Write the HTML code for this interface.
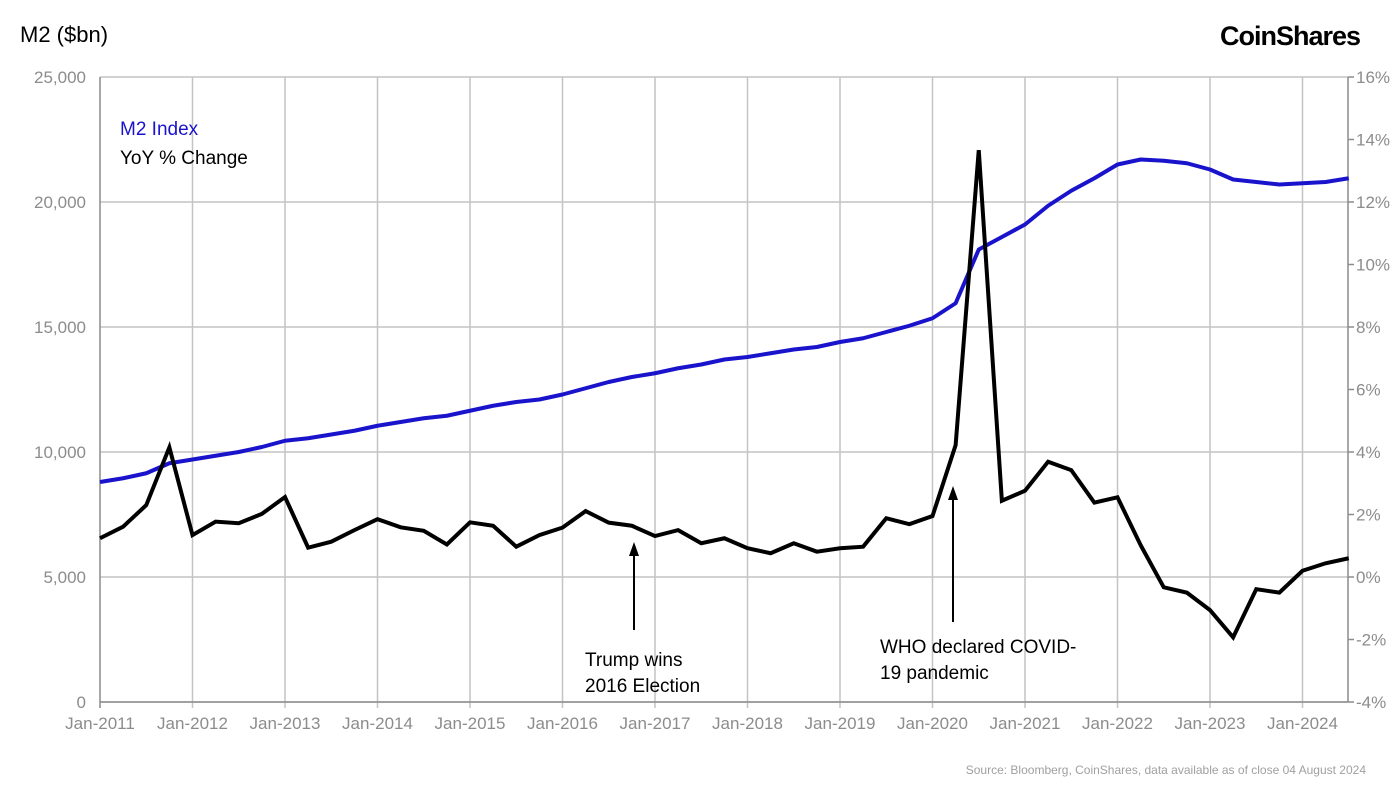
<!DOCTYPE html>
<html><head><meta charset="utf-8"><style>
body{margin:0;background:#fff;}
svg text{font-family:"Liberation Sans",Arial,sans-serif;}
</style></head><body>
<svg id="chart" width="1400" height="787">
<text x="20" y="42" font-size="22" fill="#000">M2 ($bn)</text>
<text x="1360" y="45" font-size="27" font-weight="bold" fill="#000" text-anchor="end" letter-spacing="-1">CoinShares</text>
<g id="grid"></g>
<g id="series"></g>
<text x="120" y="135" font-size="19" fill="#1a13cc">M2 Index</text>
<text x="120" y="164" font-size="19" fill="#000">YoY % Change</text>
<g>
<line x1="634" y1="630" x2="634" y2="555" stroke="#000" stroke-width="2"/>
<polygon points="629,556 639,556 634,542" fill="#000"/>
<text x="585" y="666" font-size="19">Trump wins</text>
<text x="585" y="692" font-size="19">2016 Election</text>
</g>
<g>
<line x1="953" y1="622" x2="953" y2="499" stroke="#000" stroke-width="2"/>
<polygon points="948,500 958,500 953,486" fill="#000"/>
<text x="880" y="653" font-size="19">WHO declared COVID-</text>
<text x="880" y="679" font-size="19">19 pandemic</text>
</g>
<text x="1366" y="774" font-size="12" fill="#a0a0a0" text-anchor="end">Source: Bloomberg, CoinShares, data available as of close 04 August 2024</text>
</svg>
<script>
const m2Values=[8800,8950,9150,9550,9700,9850,10000,10200,10450,10550,10700,10850,11050,11200,11350,11450,11650,11850,12000,12100,12300,12550,12800,13000,13150,13350,13500,13700,13800,13950,14100,14200,14400,14550,14800,15050,15350,15950,18100,18600,19100,19850,20450,20950,21500,21700,21650,21550,21300,20900,20800,20700,20750,20800,20950];
const yoyValues=[1.24,1.61,2.30,4.15,1.34,1.77,1.72,2.02,2.56,0.94,1.13,1.50,1.85,1.59,1.48,1.04,1.75,1.64,0.97,1.34,1.58,2.11,1.74,1.64,1.31,1.50,1.08,1.24,0.92,0.76,1.08,0.81,0.92,0.97,1.88,1.69,1.95,4.22,13.66,2.44,2.76,3.69,3.42,2.38,2.55,1.02,-0.33,-0.50,-1.06,-1.93,-0.39,-0.50,0.20,0.44,0.60];
const leftTicks=[0,5000,10000,15000,20000,25000];
const rightTicks=[-4,-2,0,2,4,6,8,10,12,14,16];
const xTickLabels=["Jan-2011","Jan-2012","Jan-2013","Jan-2014","Jan-2015","Jan-2016","Jan-2017","Jan-2018","Jan-2019","Jan-2020","Jan-2021","Jan-2022","Jan-2023","Jan-2024"];
const NS="http://www.w3.org/2000/svg";
const L=100,R=1348,T=77,B=702,Q=23.125;
const xOf=i=>L+i*Q;
const yL=v=>B-(v/25000)*(B-T);
const yR=v=>B-((v+4)/20)*(B-T);
function mk(tag,attrs,parent){const e=document.createElementNS(NS,tag);for(const k in attrs)e.setAttribute(k,attrs[k]);parent.appendChild(e);return e;}
const grid=document.getElementById('grid'),ser=document.getElementById('series');
leftTicks.forEach(t=>{const y=yL(t);
const gl=mk('line',{x1:L,x2:R,y1:y,y2:y,stroke:'#c4c4c4','stroke-width':1.5},grid);


const tx=mk('text',{x:86,y:y+6,'font-size':17,fill:'#8c8c8c','text-anchor':'end'},grid);tx.textContent=t.toLocaleString('en-US');

});
rightTicks.forEach(t=>{const y=yR(t);
const tk=mk('line',{x1:R,x2:R+6,y1:y,y2:y,stroke:'#8c8c8c','stroke-width':1.5},grid);


const tx=mk('text',{x:1356,y:y+6,'font-size':17,fill:'#8c8c8c'},grid);tx.textContent=t+'%';

});
xTickLabels.forEach((lab,k)=>{const x=xOf(k*4);
const gl=mk('line',{x1:x,x2:x,y1:T,y2:B+6,stroke:k===0?'#8c8c8c':'#c4c4c4','stroke-width':1.5},grid);


const tx=mk('text',{x:x,y:729,'font-size':17,fill:'#8c8c8c','text-anchor':'middle'},grid);tx.textContent=lab;

});
const ax=mk('line',{x1:R,x2:R,y1:T,y2:B,stroke:'#8c8c8c','stroke-width':1.5},grid);


const bx=mk('line',{x1:L,x2:R,y1:B,y2:B,stroke:'#8c8c8c','stroke-width':1.5},grid);


const blue=mk('polyline',{points:m2Values.map((v,i)=>xOf(i)+','+yL(v)).join(' '),fill:'none',stroke:'#1a13cc','stroke-width':4,'stroke-linejoin':'round'},ser);


const blk=mk('polyline',{points:yoyValues.map((v,i)=>xOf(i)+','+yR(v)).join(' '),fill:'none',stroke:'#000','stroke-width':4,'stroke-linejoin':'miter'},ser);


</script>
</body></html>
